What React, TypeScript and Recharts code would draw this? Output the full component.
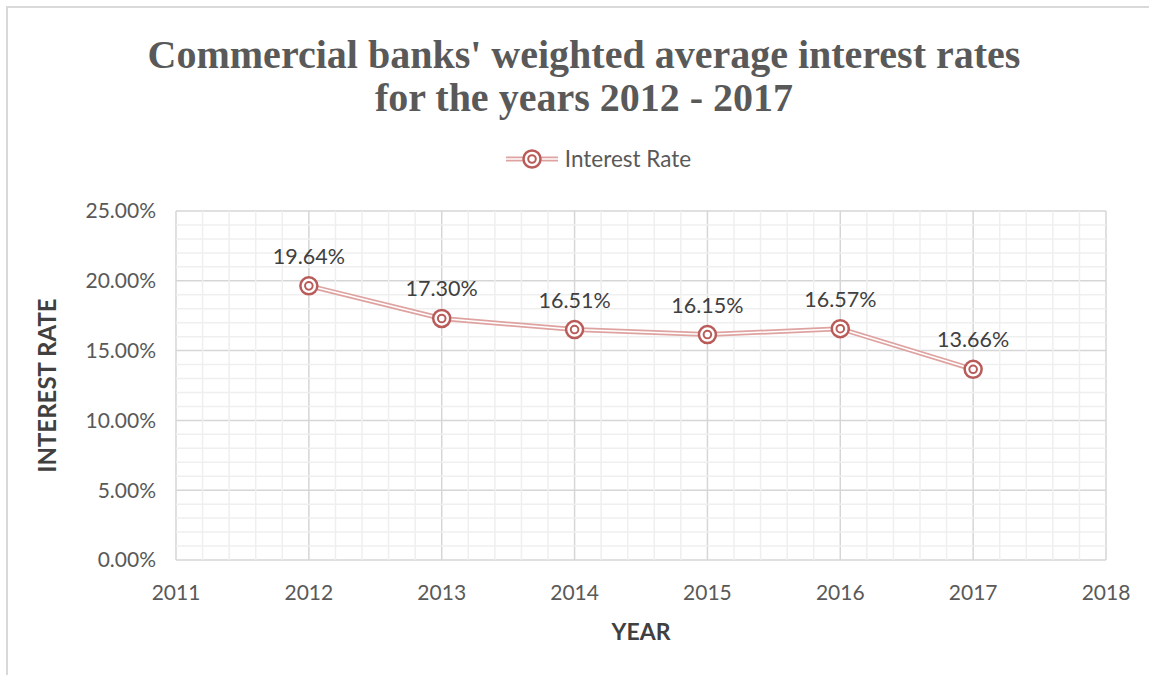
import React from "react";
import {
  LineChart,
  Line,
  XAxis,
  YAxis,
  CartesianGrid,
  ReferenceLine,
  LabelList,
} from "recharts";

const years = [2012, 2013, 2014, 2015, 2016, 2017];
const interestRate = [19.64, 17.3, 16.51, 16.15, 16.57, 13.66];
const xTicks = [2011, 2012, 2013, 2014, 2015, 2016, 2017, 2018];
const yTicks = [0, 5, 10, 15, 20, 25];

const data = years.map((year, i) => ({ year, rate: interestRate[i] }));

// minor gridlines: 5 per major step
const xMinor: number[] = [];
for (let y = 2011; y < 2018; y++) for (let k = 1; k < 5; k++) xMinor.push(y + k / 5);
const yMinor: number[] = [];
for (let v = 0; v < 25; v += 5) for (let k = 1; k < 5; k++) yMinor.push(v + k);

const MARKER = "#b95c59";
const LINE = "#dea3a1";
const TEXT = "#595959";
const FONT = "Lato, 'Open Sans', sans-serif";

const RingDot = (props: any) => {
  const { cx, cy } = props;
  if (cx == null || cy == null) return null;
  return (
    <g>
      <circle cx={cx} cy={cy} r={8.5} fill="#fff" stroke={MARKER} strokeWidth={2.5} />
      <circle cx={cx} cy={cy} r={3.8} fill="#fff" stroke={MARKER} strokeWidth={2} />
    </g>
  );
};

const LegendBox = () => (
  <div
    style={{
      position: "absolute",
      left: 24,
      top: 145,
      width: 1149,
      display: "flex",
      justifyContent: "center",
      alignItems: "center",
      fontFamily: FONT,
      fontSize: 22.5,
      color: TEXT,
    }}
  >
    <svg width={52} height={22} style={{ marginRight: 7 }}>
      <line x1={0} y1={11} x2={52} y2={11} stroke={LINE} strokeWidth={5} />
      <line x1={0} y1={11} x2={52} y2={11} stroke="#fff" strokeWidth={1.5} />
      <circle cx={26} cy={11} r={8.5} fill="#fff" stroke={MARKER} strokeWidth={2.5} />
      <circle cx={26} cy={11} r={3.8} fill="#fff" stroke={MARKER} strokeWidth={2} />
    </svg>
    <span>Interest Rate</span>
  </div>
);

export default function App() {
  return (
    <div style={{ position: "absolute", left: 0, top: 0, width: 1149, height: 675, background: "#fff", overflow: "hidden" }}>
      <div style={{ position: "absolute", left: 6, top: 6, width: 1200, height: 700, borderTop: "2px solid #d9d9d9", borderLeft: "2px solid #d9d9d9" }} />
      <div
        style={{
          position: "absolute",
          left: 0,
          top: 33,
          width: 1168,
          textAlign: "center",
          fontFamily: "'Liberation Serif', 'DejaVu Serif', serif",
          fontWeight: "bold",
          fontSize: 40,
          lineHeight: "43px",
          color: TEXT,
        }}
      >
        Commercial banks' weighted average interest rates
        <br />
        for the years 2012 - 2017
      </div>
      <LegendBox />
      <div style={{ position: "absolute", left: 0, top: 0 }}>
        <LineChart width={1149} height={675} data={data} margin={{ top: 211, right: 43, bottom: 75, left: 56 }}>
          {xMinor.map((v) => (
            <ReferenceLine key={"x" + v} x={v} stroke="#efefef" strokeWidth={1.5} />
          ))}
          {yMinor.map((v) => (
            <ReferenceLine key={"y" + v} y={v} stroke="#efefef" strokeWidth={1.5} />
          ))}
          <CartesianGrid stroke="#d6d6d6" strokeWidth={1.5} />
          <XAxis
            dataKey="year"
            type="number"
            domain={[2011, 2018]}
            ticks={xTicks}
            axisLine={false}
            tickLine={false}
            height={40}
            tickMargin={19}
            tick={{ fontSize: 21, fill: TEXT, fontFamily: FONT }}
            label={{ value: "YEAR", position: "insideBottom", offset: -40, fontSize: 23, fontWeight: "bold", fill: "#404040", fontFamily: FONT }}
          />
          <YAxis
            type="number"
            domain={[0, 25]}
            ticks={yTicks}
            axisLine={false}
            tickLine={false}
            width={120}
            tickMargin={14}
            tickFormatter={(v: number) => v.toFixed(2) + "%"}
            tick={{ fontSize: 21, fill: TEXT, fontFamily: FONT }}
            label={{
              value: "INTEREST RATE",
              angle: -90,
              position: "insideLeft",
              offset: -9,
              style: { textAnchor: "middle" },
              fontSize: 24,
              fontWeight: "bold",
              fill: "#404040",
              fontFamily: FONT,
            }}
          />
          <Line
            dataKey="rate"
            name="Interest Rate"
            stroke={LINE}
            strokeWidth={5}
            dot={false}
            activeDot={false}
            isAnimationActive={false}
          />
          <Line
            dataKey="rate"
            legendType="none"
            stroke="#fff"
            strokeWidth={1.5}
            dot={<RingDot />}
            activeDot={false}
            isAnimationActive={false}
          >
            <LabelList
              dataKey="rate"
              position="top"
              offset={22}
              formatter={(v: any) => Number(v).toFixed(2) + "%"}
              style={{ fontSize: 21.5, fill: "#404040", fontFamily: FONT }}
            />
          </Line>
        </LineChart>
      </div>
    </div>
  );
}
